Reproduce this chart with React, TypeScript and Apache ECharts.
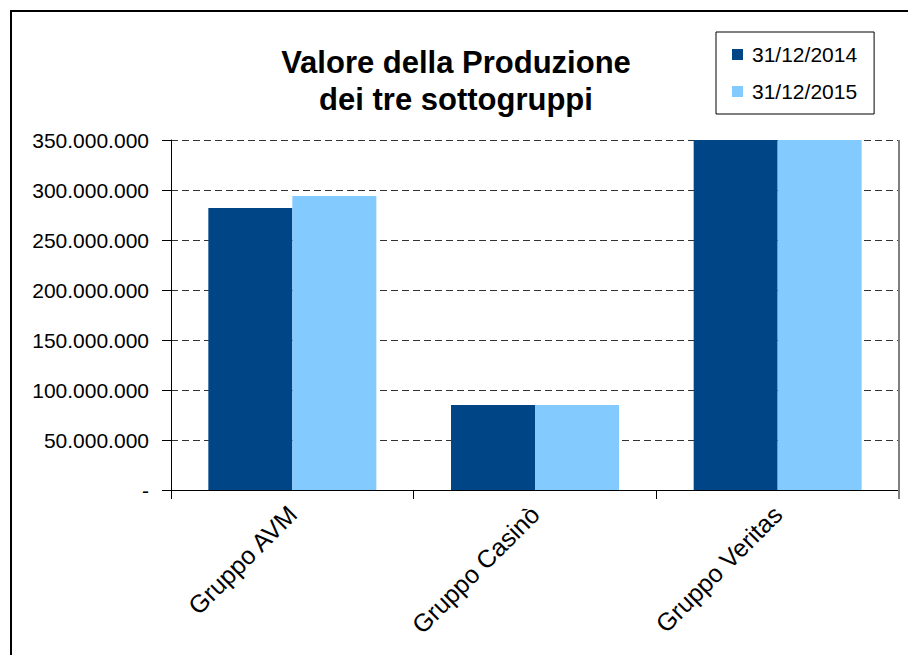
import React, { useEffect, useRef } from "react";
import * as echarts from "echarts";

const categories = ["Gruppo AVM", "Gruppo Casinò", "Gruppo Veritas"];
const seriesNames = ["31/12/2014", "31/12/2015"];
const values2014 = [282000000, 85000000, 380000000];
const values2015 = [294000000, 85000000, 385000000];
const yTicks = [0, 50000000, 100000000, 150000000, 200000000, 250000000, 300000000, 350000000];
const titleLines = ["Valore della Produzione", "dei tre sottogruppi"];

const FONT = "Liberation Sans, Arial, sans-serif";

function fmt(v: number): string {
  if (v === 0) return "-";
  return String(Math.round(v)).replace(/\B(?=(\d{3})+(?!\d))/g, ".");
}

export default function App() {
  const ref = useRef<HTMLDivElement>(null);
  useEffect(() => {
    document.body.style.margin = "0";
    const chart = echarts.init(ref.current!, null, { renderer: "svg" });
    chart.setOption({
      animation: false,
      backgroundColor: "#ffffff",
      textStyle: { fontFamily: FONT },
      grid: { left: 171, top: 140, right: 9, bottom: 165, containLabel: false },
      legend: {
        orient: "vertical",
        left: 716,
        top: 32,
        padding: [12, 17, 12, 16],
        borderColor: "#000",
        borderWidth: 1,
        itemWidth: 11,
        itemHeight: 11,
        itemGap: 16,
        icon: "rect",
        textStyle: { fontFamily: FONT, fontSize: 21, color: "#000", lineHeight: 21, padding: [0, 0, 0, 4] },
        data: seriesNames,
      },
      xAxis: {
        type: "category",
        data: categories,
        axisLine: { lineStyle: { color: "#000", width: 1 } },
        axisTick: { show: true, length: 9, lineStyle: { color: "#000" } },
        axisLabel: { rotate: 45, margin: 20, fontFamily: FONT, fontSize: 25, color: "#000" },
        splitLine: { show: false },
      },
      yAxis: {
        type: "value",
        min: 0,
        max: yTicks[yTicks.length - 1],
        interval: yTicks[1] - yTicks[0],
        axisLine: { show: true, lineStyle: { color: "#000", width: 1 } },
        axisTick: { show: true, length: 9, lineStyle: { color: "#000" } },
        axisLabel: { margin: 22, fontFamily: FONT, fontSize: 21, color: "#000", formatter: (v: number) => fmt(v) },
        splitLine: { show: true, lineStyle: { color: "#333", width: 1, type: [7, 4] } },
      },
      series: [
        {
          name: seriesNames[0],
          type: "bar",
          data: values2014,
          barWidth: 84,
          barGap: "0%",
          clip: true,
          itemStyle: { color: "#004586" },
        },
        {
          name: seriesNames[1],
          type: "bar",
          data: values2015,
          barWidth: 84,
          barGap: "0%",
          clip: true,
          itemStyle: { color: "#83CAFF" },
        },
      ],
      graphic: [
        {
          type: "rect",
          shape: { x: 11, y: 11, width: 1000, height: 1000 },
          style: { fill: "none", stroke: "#000", lineWidth: 2 },
          silent: true,
          z: 100,
        },
        {
          type: "line",
          shape: { x1: 899, y1: 140, x2: 899, y2: 499 },
          style: { stroke: "#808080", lineWidth: 2 },
          silent: true,
          z: 100,
        },
        {
          type: "text",
          x: 456,
          y: 81,
          style: {
            text: titleLines.join("\n"),
            align: "center",
            verticalAlign: "middle",
            fontFamily: FONT,
            fontWeight: "bold",
            fontSize: 31,
            lineHeight: 37,
            fill: "#000",
          },
          z: 100,
        },
      ],
    });
    return () => chart.dispose();
  }, []);
  return <div ref={ref} style={{ width: 908, height: 655 }} />;
}
